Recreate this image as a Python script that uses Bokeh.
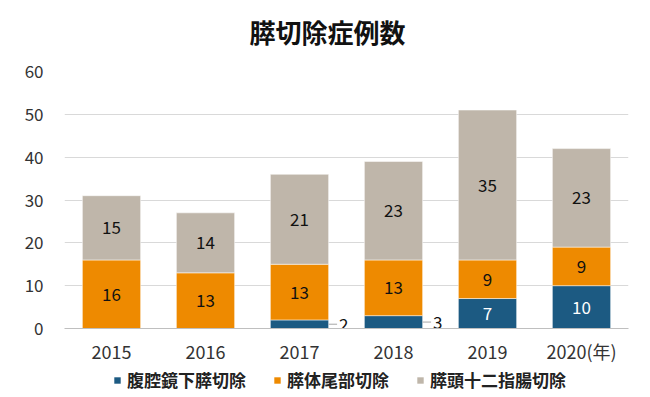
from bokeh.plotting import figure
from bokeh.models import ColumnDataSource, Legend, LegendItem, Range1d, Label
from bokeh.layouts import column
from bokeh.transform import dodge
from bokeh.core.properties import value
from bokeh.embed import file_html
from bokeh.resources import INLINE

years = ["2015", "2016", "2017", "2018", "2019", "2020(年)"]
laparo = [0, 0, 2, 3, 7, 10]
distal = [16, 13, 13, 13, 9, 9]
pd_vals = [15, 14, 21, 23, 35, 23]
series_names = ["腹腔鏡下膵切除", "膵体尾部切除", "膵頭十二指腸切除"]
colors = ["#1C5A82", "#EE8A00", "#BFB6AA"]
title_text = "膵切除症例数"
FONT = "Noto Sans CJK JP"
W = 642
FRAME_W = 564

# ---- title strip (frame aligned with main chart frame) ----
t = figure(width=W, height=56, x_range=Range1d(0, FRAME_W), y_range=Range1d(0, 56),
           output_backend="svg", toolbar_location=None, min_border=0, title=None,
           x_axis_location=None, y_axis_location=None)
t.grid.visible = False
t.outline_line_color = None
t.add_layout(Label(x=263, y=25, text=title_text, text_align="center", text_baseline="middle",
                   text_font=FONT, text_font_size="26px", text_font_style="bold",
                   text_color="#111111"))

# ---- main chart ----
p = figure(x_range=years, y_range=Range1d(0, 60), width=W, height=312,
           output_backend="svg", toolbar_location=None, title=None,
           min_border_left=64, min_border_right=14, min_border_top=15, min_border_bottom=40)
p.outline_line_color = None
p.background_fill_color = "white"

src = ColumnDataSource(dict(x=years, a=laparo, b=distal, c=pd_vals))
p.vbar_stack(["a", "b", "c"], x="x", width=0.62, source=src, color=colors,
             line_color="white", line_alpha=0.5, line_width=1)

inside_x, inside_y, inside_t, inside_c = [], [], [], []
out_x, out_y, out_t = [], [], []
for i, yr in enumerate(years):
    base = 0
    for vals, col in zip([laparo, distal, pd_vals], ["white", "#111111", "#111111"]):
        v = vals[i]
        if v > 0:
            if v < 5:
                out_x.append(yr); out_y.append(base + v / 2); out_t.append(str(v))
            else:
                inside_x.append(yr); inside_y.append(base + v / 2)
                inside_t.append(str(v)); inside_c.append(col)
        base += v

isrc = ColumnDataSource(dict(x=inside_x, y=inside_y, t=inside_t, c=inside_c))
p.text(x="x", y="y", text="t", text_color="c", source=isrc, text_align="center",
       text_baseline="middle", text_font=value(FONT), text_font_size="17px")

osrc = ColumnDataSource(dict(x=out_x, y=out_y, t=out_t))
p.segment(x0=dodge("x", 0.31, range=p.x_range), y0="y",
          x1=dodge("x", 0.40, range=p.x_range), y1="y", source=osrc,
          line_color="#A6A6A6", line_width=1)
p.text(x=dodge("x", 0.42, range=p.x_range), y="y", text="t", source=osrc,
       text_align="left", text_baseline="middle", text_font=value(FONT),
       text_font_size="17px", text_color="#111111")

p.xaxis.axis_line_color = "#BFBFBF"
p.xaxis.major_tick_line_color = None
p.xaxis.minor_tick_line_color = None
p.xaxis.major_tick_out = 0
p.xaxis.major_label_text_font = FONT
p.xaxis.major_label_text_font_size = "18px"
p.xaxis.major_label_text_color = "#333333"
p.xaxis.major_label_standoff = 9
p.yaxis.axis_line_color = None
p.yaxis.major_tick_line_color = None
p.yaxis.minor_tick_line_color = None
p.yaxis.major_label_text_font = FONT
p.yaxis.major_label_text_font_size = "17px"
p.yaxis.major_label_text_color = "#333333"
p.yaxis.major_label_standoff = 15
p.yaxis.ticker = [0, 10, 20, 30, 40, 50, 60]
p.xgrid.grid_line_color = None
p.ygrid.grid_line_color = "#D9D9D9"
p.ygrid.grid_line_width = 1

# ---- legend strip (frame aligned with main chart frame) ----
lg = figure(width=W, height=26, x_range=Range1d(0, 1), y_range=Range1d(0, 1),
            output_backend="svg", toolbar_location=None, min_border=0, title=None,
            x_axis_location=None, y_axis_location=None)
lg.grid.visible = False
lg.outline_line_color = None
items = []
for n, c in zip(series_names, colors):
    r = lg.vbar(x=[0.5], top=[0], bottom=[0], width=0.1, fill_color=c, line_color=None)
    items.append(LegendItem(label=n, renderers=[r]))
legend = Legend(items=items, orientation="horizontal", location=(49, 2))
legend.label_text_font = FONT
legend.label_text_font_size = "17px"
legend.label_text_font_style = "bold"
legend.label_text_color = "#222222"
legend.glyph_width = 8
legend.glyph_height = 8
legend.label_standoff = 6
legend.spacing = 27
legend.padding = 0
legend.margin = 0
legend.border_line_color = None
legend.background_fill_alpha = 0
lg.add_layout(legend, "center")

layout = column(t, p, lg, spacing=0)
open("out.html", "w").write(file_html(layout, INLINE))
